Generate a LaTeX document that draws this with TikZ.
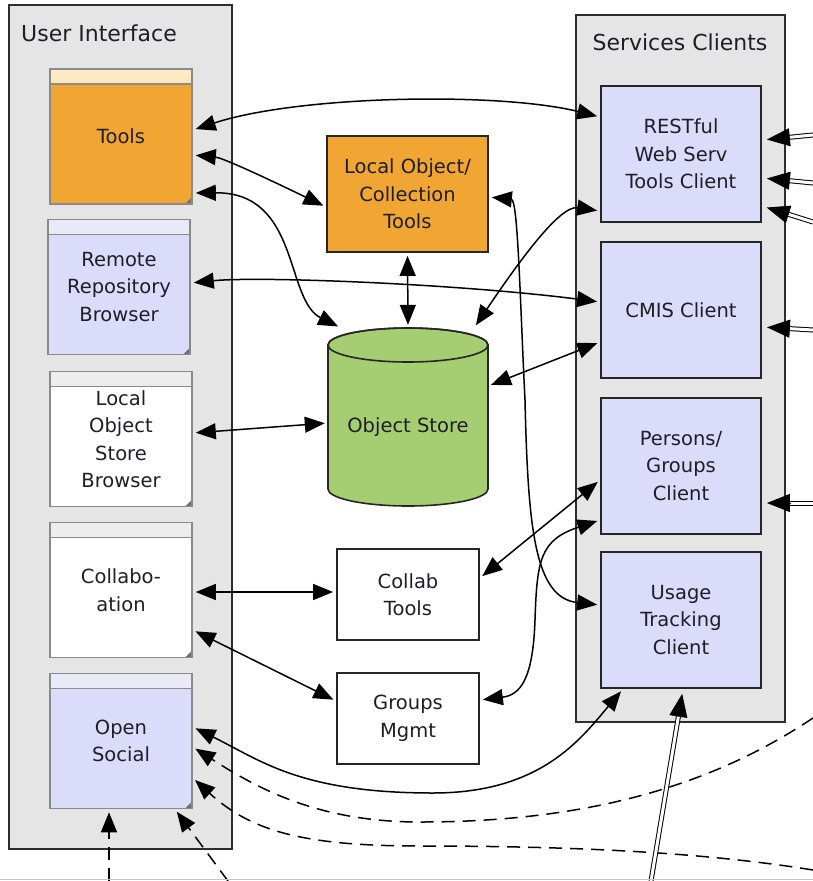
\documentclass[tikz,border=0pt]{standalone}
\usepackage{fontspec}
\setmainfont{DejaVu Sans}
\usetikzlibrary{arrows.meta,calc}
\definecolor{contfill}{HTML}{E5E5E5}
\definecolor{contdraw}{HTML}{2E2E2E}
\definecolor{winborder}{HTML}{8A8A8A}
\definecolor{orng}{HTML}{F1A634}
\definecolor{lav}{HTML}{DADCFA}
\definecolor{grn}{HTML}{A5CD72}
\definecolor{txt}{HTML}{1E1E28}
\definecolor{bargrey}{HTML}{EDEDED}
\definecolor{barlav}{HTML}{E9EAF7}
\definecolor{baror1}{HTML}{FDEBC8}
\definecolor{baror2}{HTML}{F6BE5E}
\definecolor{grip}{HTML}{707070}
\newcommand\boxfontsize{\fontsize{19.5}{27.5}\selectfont}
\newcommand\dblarrow[2]{\draw[dblshaft] (#1) -- (#2); \draw[dblhead] ($(#2)!28pt!(#1)$) -- (#2);}
\tikzset{
  container/.style={draw=contdraw, fill=contfill, line width=1.8pt, inner sep=0},
  conttitle/.style={font=\fontsize{22}{26}\selectfont, text=txt, inner sep=0},
  uiwin/.style 2 args={draw=winborder, fill=#1, line width=1.6pt, minimum width=142pt, minimum height=135pt, inner sep=0, align=center, font=\boxfontsize, text=txt,
    path picture={
      \path[#2] (path picture bounding box.north west) rectangle ([yshift=-15pt]path picture bounding box.north east);
      \draw[winborder, line width=1.6pt] ([yshift=-15pt]path picture bounding box.north west) -- ([yshift=-15pt]path picture bounding box.north east);
      \fill[grip] (path picture bounding box.south east) -- ++(-7pt,0pt) -- ++(7pt,7pt) -- cycle;
    }},
  svcbox/.style={draw=black!85, fill=lav, line width=1.8pt, minimum width=160pt, minimum height=136pt, inner sep=0, align=center, font=\boxfontsize, text=txt},
  midbox/.style={draw=black!85, line width=1.8pt, inner sep=0, align=center, font=\boxfontsize, text=txt},
  arr/.style={line width=1.5pt, {Triangle[length=20pt,width=16pt]}-{Triangle[length=20pt,width=16pt]}, shorten <=3pt, shorten >=3pt},
  dasharr/.style={line width=1.5pt, dash pattern=on 13pt off 8pt, -{Triangle[length=20pt,width=16pt]}, shorten >=3pt},
  dblshaft/.style={double=white, double distance=3pt, line width=1pt, shorten >=18pt},
  dblhead/.style={line width=1pt, -{Triangle[length=23pt,width=18pt]}, shorten >=5pt},
}
\begin{document}
\begin{tikzpicture}[x=1pt,y=-1pt]
\useasboundingbox (0,0) rectangle (813,881);
% containers
\node[container, minimum width=223pt, minimum height=844pt] (uicont) at (120.5,427) {};
\node[conttitle, anchor=base west] (uititle) at (21,41) {User Interface};
\node[container, minimum width=209pt, minimum height=707pt] (sccont) at (680.5,368.5) {};
\node[conttitle, anchor=base] (sctitle) at (680,50) {Services Clients};
% UI windows
\node[uiwin={orng}{top color=baror1, bottom color=baror2}] (tools) at (121,136.5) {Tools};
\node[uiwin={lav}{fill=barlav}] (remote) at (119,287) {Remote\\Repository\\Browser};
\node[uiwin={white}{fill=bargrey}] (losb) at (121,439) {Local\\Object\\Store\\Browser};
\node[uiwin={white}{fill=bargrey}] (collab) at (121,590) {Collabo-\\ation};
\node[uiwin={lav}{fill=barlav}] (osocial) at (121,741) {Open\\Social};
% service clients
\node[svcbox] (rest) at (681,154) {RESTful\\Web Serv\\Tools Client};
\node[svcbox] (cmis) at (681,310) {CMIS Client};
\node[svcbox] (persons) at (681,466) {Persons/\\Groups\\Client};
\node[svcbox] (usage) at (681,620) {Usage\\Tracking\\Client};
% middle
\node[midbox, fill=orng, minimum width=161pt, minimum height=116pt] (localcoll) at (407.5,194) {Local Object/\\Collection\\Tools};
\filldraw[fill=grn, draw=black!85, line width=1.6pt] (328,345) -- (328,489) arc[start angle=180, end angle=360, x radius=80pt, y radius=17pt] -- (488,345) arc[start angle=0, end angle=180, x radius=80pt, y radius=17pt] -- cycle;
\draw[black!85, line width=1.6pt] (408,345) ellipse [x radius=80pt, y radius=17pt];
\node[minimum width=160pt, minimum height=178pt, inner sep=0] (store) at (408,417) {};
\node[font=\boxfontsize, text=txt, inner sep=0] (storetext) at (408,427) {Object Store};
\node[midbox, fill=white, minimum width=142pt, minimum height=91pt] (ctools) at (408,594.5) {Collab\\Tools};
\node[midbox, fill=white, minimum width=142pt, minimum height=91pt] (gmgmt) at (408,718.5) {Groups\\Mgmt};
% connectors
\draw[arr] (tools.east |- 0,130) .. controls (300,95) and (500,92) .. (rest.west |- 0,117);
\draw[arr] (tools.east |- 0,155) .. controls (225,158) and (295,192) .. (localcoll.west |- 0,207);
\draw[arr] (tools.east |- 0,193) .. controls (300,192) and (285,300) .. ([xshift=13pt]store.north west);
\draw[arr] (remote.east |- 0,283) .. controls (260,276) and (460,284) .. (cmis.west |- 0,302);
\draw[arr] (localcoll.south) -- (store.north);
\draw[arr] (rest.west |- 0,211) .. controls (560,205) and (520,260) .. ([xshift=-14pt]store.north east);
\draw[arr] (cmis.west |- 0,342) -- (store.east |- 0,386);
\draw[arr] (losb.east |- 0,433) -- (store.west |- 0,423);
\draw[arr] (localcoll.east |- 0,197) .. controls (518,200) and (520,300) .. (525,400) .. controls (528,530) and (535,598) .. (usage.west |- 0,605);
\draw[arr] (persons.west |- 0,480) -- (ctools.east |- 0,578);
\draw[arr] (persons.west |- 0,520) .. controls (540,540) and (537,560) .. (535,620) .. controls (533,680) and (520,695) .. (gmgmt.east |- 0,700);
\draw[arr] (collab.east |- 0,592) -- (ctools.west |- 0,592);
\draw[arr] (collab.east |- 0,630) -- (gmgmt.west |- 0,701);
\draw[arr] (osocial.east |- 0,727) .. controls (260,760) and (300,793) .. (433,793) .. controls (540,793) and (580,740) .. (usage.south -| 623,0);
% dashed
\coordinate (dA) at (813,718);
\coordinate (dB) at (813,870);
\coordinate (dC) at (109,881);
\coordinate (dD) at (228,881);
\draw[dasharr] (dA) .. controls (720,780) and (600,822) .. (420,822) .. controls (320,822) and (260,790) .. (osocial.east |- 0,747);
\draw[dasharr] (dB) .. controls (720,855) and (600,846) .. (420,846) .. controls (300,846) and (250,830) .. (osocial.east |- 0,778);
\draw[dasharr] (dC) -- (osocial.south -| 109,0);
\draw[dasharr] (dD) -- (osocial.south -| 175,0);
% double arrows
\coordinate (eA) at (813,135);
\coordinate (eB) at (813,183);
\coordinate (eC) at (813,222);
\coordinate (eD) at (813,330);
\coordinate (eE) at (813,503);
\coordinate (eF) at (651,881);
\coordinate (tA) at (rest.east |- 0,140);
\coordinate (tB) at (rest.east |- 0,178);
\coordinate (tC) at (rest.east |- 0,206);
\coordinate (tD) at (cmis.east |- 0,327);
\coordinate (tE) at (persons.east |- 0,503);
\coordinate (tF) at (usage.south -| 683,0);
\dblarrow{eA}{tA}
\dblarrow{eB}{tB}
\dblarrow{eC}{tC}
\dblarrow{eD}{tD}
\dblarrow{eE}{tE}
\dblarrow{eF}{tF}
\draw[gray!45, line width=1pt] (0,879.5) -- (813,879.5);
\end{tikzpicture}
\end{document}
